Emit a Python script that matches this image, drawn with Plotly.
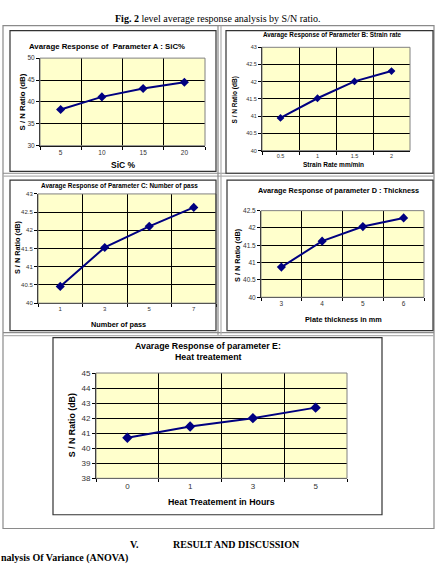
import plotly.graph_objects as go

W, H = 440, 565

# ---------------- data ----------------
cat_a = ["5", "10", "15", "20"]
val_a = [38.25, 41.15, 43.05, 44.5]

cat_b = ["0.5", "1", "1.5", "2"]
val_b = [40.95, 41.52, 42.01, 42.31]

cat_c = ["1", "3", "5", "7"]
val_c = [40.46, 41.53, 42.11, 42.63]

cat_d = ["3", "4", "5", "6"]
val_d = [40.87, 41.62, 42.04, 42.29]

cat_e = ["0", "1", "3", "5"]
val_e = [40.7, 41.45, 42.0, 42.7]

ticks_a = [30, 35, 40, 45, 50]
ticks_b = [40, 40.5, 41, 41.5, 42, 42.5, 43]
ticks_c = [40, 40.5, 41, 41.5, 42, 42.5, 43]
ticks_d = [40, 40.5, 41, 41.5, 42, 42.5]
ticks_e = [38, 39, 40, 41, 42, 43, 44, 45]

# ---------------- helpers ----------------
def px(x):
    return x / W

def py(y):
    return 1 - y / H

LINE = "#000080"
SANS = "Liberation Sans, Arial, sans-serif"
SERIF = "Liberation Serif, Times New Roman, serif"

fig = go.Figure()

charts = [
    # cats, vals, ticks, plot box (x0,x1,y0,y1), tick font, marker size
    (cat_a, val_a, ticks_a, (40, 205, 55, 144), 6.5, 7),
    (cat_b, val_b, ticks_b, (262, 410, 44, 149), 5.5, 6),
    (cat_c, val_c, ticks_c, (38, 216, 193, 304), 6, 7),
    (cat_d, val_d, ticks_d, (261, 424, 210, 298), 6.5, 7),
    (cat_e, val_e, ticks_e, (96, 347, 375, 482), 8, 8),
]

shapes = []
for i, (cats, vals, ticks, box, tfs, ms) in enumerate(charts):
    n = "" if i == 0 else str(i + 1)
    x0, x1, y0, y1 = box
    fig.add_trace(go.Scatter(
        x=cats, y=vals, mode="lines+markers",
        line=dict(color=LINE, width=2),
        marker=dict(symbol="diamond", size=ms, color=LINE),
        xaxis="x" + n, yaxis="y" + n, showlegend=False,
        hoverinfo="x+y",
    ))
    fig.layout["xaxis" + n] = dict(
        type="category", categoryorder="array", categoryarray=cats,
        domain=[px(x0), px(x1)], range=[-0.5, len(cats) - 0.5],
        anchor="y" + n, tickson="boundaries",
        showgrid=True, gridcolor="#000000", gridwidth=1,
        ticks="outside", ticklen=3, tickcolor="#000000",
        showline=True, linecolor="#000000", linewidth=1,
        tickfont=dict(family=SANS, size=tfs, color="#333333"),
        fixedrange=True, zeroline=False,
    )
    fig.layout["yaxis" + n] = dict(
        domain=[py(y1), py(y0)], range=[ticks[0], ticks[-1]],
        anchor="x" + n, tickvals=ticks,
        ticktext=[("%g" % t) for t in ticks],
        showgrid=True, gridcolor="#000000", gridwidth=1,
        ticks="outside", ticklen=3, tickcolor="#000000",
        showline=True, linecolor="#000000", linewidth=1,
        tickfont=dict(family=SANS, size=tfs, color="#333333"),
        fixedrange=True, zeroline=False,
    )
    # plot area border
    shapes.append(dict(type="rect", xref="paper", yref="paper",
                       x0=px(x0), x1=px(x1), y0=py(y1), y1=py(y0),
                       line=dict(color="#808080", width=1), layer="above"))

# ---------------- frames ----------------
GRAY = "#8a8a8a"
def hline(x0, x1, y, color=GRAY, w=1.2):
    shapes.append(dict(type="line", xref="paper", yref="paper",
                       x0=px(x0), x1=px(x1), y0=py(y), y1=py(y),
                       line=dict(color=color, width=w)))

def vline(x, y0, y1, color=GRAY, w=1.2):
    shapes.append(dict(type="line", xref="paper", yref="paper",
                       x0=px(x), x1=px(x), y0=py(y0), y1=py(y1),
                       line=dict(color=color, width=w)))

def box(x0, x1, y0, y1, color="#333333", w=1.2):
    shapes.append(dict(type="rect", xref="paper", yref="paper",
                       x0=px(x0), x1=px(x1), y0=py(y1), y1=py(y0),
                       line=dict(color=color, width=w)))

# outer table
box(3, 434, 22, 533, color=GRAY, w=1.2)
# row dividers (double)
hline(3, 434, 172); hline(3, 434, 175, color="#b0b0b0")
hline(3, 434, 334); hline(3, 434, 337, color="#b0b0b0")
# column divider (double)
vline(218, 22, 336); vline(221, 22, 336, color="#b0b0b0")

# inner chart boxes
box(10, 216, 27, 170)
box(226, 433, 27, 172)
box(10, 216, 179, 332)
box(227, 433, 179, 332)
box(53, 382, 339, 519)

# ---------------- text ----------------
ann = []
def text(x, y, s, size, bold=True, family=SANS, angle=0, anchor="center", color="#000000"):
    ann.append(dict(xref="paper", yref="paper", x=px(x), y=py(y),
                    text=("<b>%s</b>" % s) if bold else s,
                    showarrow=False, xanchor=anchor, yanchor="middle",
                    textangle=angle,
                    font=dict(family=family, size=size, color=color)))

# caption
text(218, 15, "<b>Fig. 2</b> level average response analysis by S/N ratio.", 10,
     bold=False, family=SERIF)

# chart A
text(107, 43, "Avarage Response of  Parameter A : SiC%", 7.8)
text(22, 100, "S / N Ratio (dB)", 7.8, angle=-90)
text(123, 164, "SiC %", 8.5)

# chart B
text(332, 31, "Avarage Response of Parameter B: Strain rate", 6.3)
text(235, 98, "S / N Ratio (dB)", 6.5, angle=-90)
text(333, 163, "Strain Rate mm/min", 6.5)

# chart C
text(119, 185, "Avarage Response of Parameter C: Number of pass", 6.4)
text(17, 247, "S / N Ratio (dB)", 7.3, angle=-90)
text(118, 326, "Number of pass", 7.3)

# chart D
text(338, 190, "Avarage Response of parameter D : Thickness", 7.3)
text(238, 255, "S / N Ratio (dB)", 7.3, angle=-90)
text(343, 321, "Plate thickness in mm", 7.3)

# chart E
text(208, 348, "Avarage Response of parameter E:", 8.8)
text(208, 359, "Heat treatement", 8.8)
text(72, 428, "S / N Ratio (dB)", 8.8, angle=-90)
text(221, 506, "Heat Treatement in Hours", 8.8)

# page text below
text(134, 549, "V.", 10, family=SERIF)
text(236, 549, "RESULT AND DISCUSSION", 10, family=SERIF)
text(-1, 563, "nalysis Of Variance (ANOVA)", 10, family=SERIF, anchor="left")

fig.update_layout(
    width=W, height=H,
    margin=dict(l=0, r=0, t=0, b=0),
    paper_bgcolor="#ffffff",
    plot_bgcolor="#ffffcc",
    shapes=shapes,
    annotations=ann,
    showlegend=False,
)

fig.write_html("out.html", config={"displayModeBar": False})
